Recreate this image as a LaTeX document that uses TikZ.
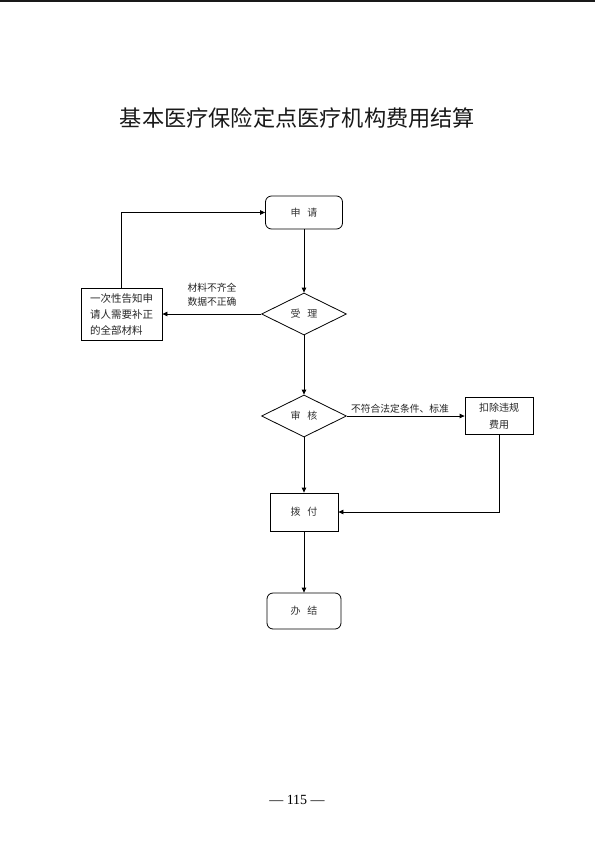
\documentclass[tikz,border=0pt]{standalone}
\usepackage{fontspec}
\setmainfont{Liberation Serif}
\newfontfamily\cjk{Noto Sans CJK SC}
\usetikzlibrary{shapes.geometric,arrows.meta}
\begin{document}
\begin{tikzpicture}[x=1pt,y=-1pt,
  line/.style={line width=0.8pt,draw=black},
  arr/.style={line, -{Triangle[length=5pt,width=4.5pt]}},
  roundbox/.style={line, rounded corners=6pt, minimum width=77pt, minimum height=33pt, inner sep=0pt, font=\cjk\fontsize{10}{12}\selectfont, text=black!80},
  sqbox/.style={line, minimum width=68pt, minimum height=38pt, inner sep=0pt, font=\cjk\fontsize{10}{12}\selectfont, text=black!80},
  dia/.style={line, shape=diamond, aspect=2, inner sep=0pt, minimum width=85pt, minimum height=42pt, font=\cjk\fontsize{10}{12}\selectfont, text=black!80},
  lbl/.style={font=\cjk\fontsize{9.8}{14}\selectfont, text=black!85, inner sep=0pt, align=center}
]
\useasboundingbox (0,0) rectangle (595,841);
\fill[white] (0,0) rectangle (595,841);
\draw[line width=1.2pt, black!90] (0,1) -- (595,1);

\node[font=\cjk\fontsize{22.2}{24}\selectfont, text=black!90] (title) at (297.5,118) {基本医疗保险定点医疗机构费用结算};

\node[roundbox] (apply) at (304,212.5) {申\hspace{0.7em}请};
\node[dia] (accept) at (304,314) {受\hspace{0.7em}理};
\node[line, minimum width=81pt, minimum height=52pt, inner sep=0pt, font=\cjk\fontsize{10.5}{16}\selectfont, text=black!85, align=left] (notify) at (121.5,314) {一次性告知申\\请人需要补正\\的全部材料};
\node[dia] (review) at (304,416) {审\hspace{0.7em}核};
\node[line, minimum width=68pt, minimum height=37pt, inner sep=0pt, font=\cjk\fontsize{10}{17}\selectfont, text=black!85, align=center] (deduct) at (499,416) {扣除违规\\费用};
\node[sqbox] (pay) at (304,512) {拨\hspace{0.7em}付};
\node[roundbox, minimum width=74pt, minimum height=36pt] (done) at (304,611) {办\hspace{0.7em}结};

\coordinate (c1) at (notify.north |- apply.west);
\coordinate (c2) at (deduct.south |- pay.east);

\draw[arr] (apply.south) -- (accept.north);
\draw[arr] (accept.west) -- (notify.east);
\draw[arr] (notify.north) -- (c1) -- (apply.west);
\draw[arr] (accept.south) -- (review.north);
\draw[arr] (review.east) -- (deduct.west);
\draw[arr] (review.south) -- (pay.north);
\draw[arr] (deduct.south) -- (c2) -- (pay.east);
\draw[arr] (pay.south) -- (done.north);

\node[lbl] (l1) at (212,295) {材料不齐全\\数据不正确};
\node[lbl] (l2) at (400,409) {不符合法定条件、标准};

\node[font=\fontsize{14}{16}\selectfont] (page) at (297,800) {— 115 —};
\end{tikzpicture}
\end{document}
